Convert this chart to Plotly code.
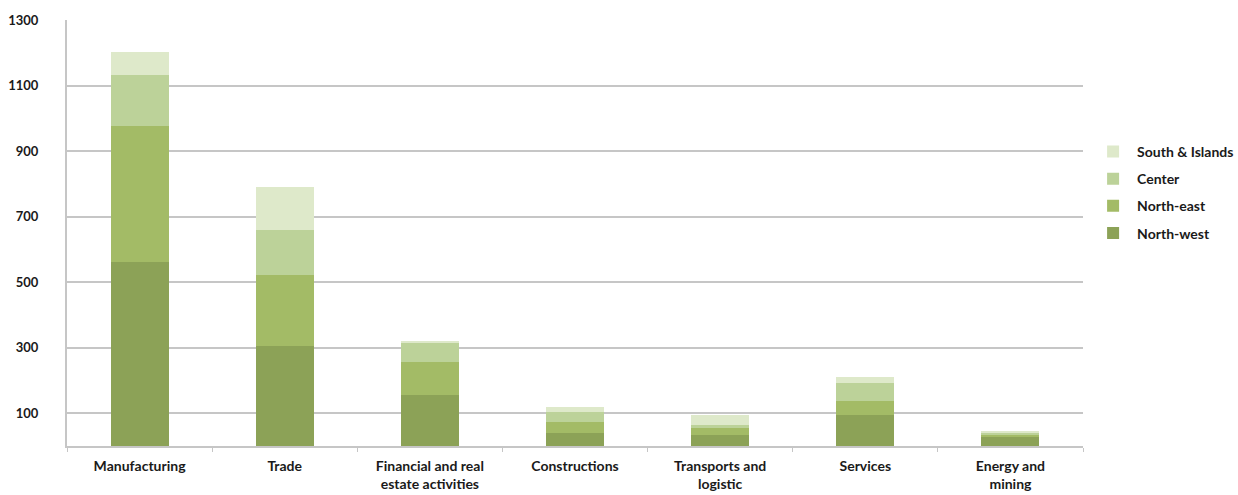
import plotly.graph_objects as go

# Categories (x axis) and regional values, stacked bottom to top
sectors = [
    "Manufacturing",
    "Trade",
    "Financial and real<br>estate activities",
    "Constructions",
    "Transports and<br>logistic",
    "Services",
    "Energy and<br>mining",
]
north_west = [563, 306, 157, 39, 34, 95, 30]
north_east = [414, 217, 100, 35, 20, 42, 6]
center = [154, 137, 60, 31, 10, 56, 4]
south_islands = [71, 130, 4, 15, 31, 18, 4]

y_ticks = [100, 300, 500, 700, 900, 1100, 1300]

# (name, values, colour, position in legend from the top)
series = [
    ("North-west", north_west, "#8CA257", 4),
    ("North-east", north_east, "#A3BB66", 3),
    ("Center", center, "#BCD299", 2),
    ("South & Islands", south_islands, "#DEE9CA", 1),
]

FONT = "Lato"
TXT = "#1a1a1a"
GRID = "#C6C6C6"

fig = go.Figure()
for name, vals, col, rank in series:
    fig.add_trace(go.Bar(
        x=sectors, y=vals, name=name, legendgroup=name, legendrank=rank,
        marker=dict(color=col, line=dict(width=0)),
    ))

fig.update_layout(
    barmode="stack",
    bargap=0.6,
    width=1238, height=495,
    margin=dict(l=67, r=155, t=20, b=49, autoexpand=False),
    plot_bgcolor="white",
    paper_bgcolor="white",
    font=dict(family=FONT, size=14, color=TXT, weight="bold"),
    legend=dict(
        x=1.006, y=0.728, xanchor="left", yanchor="top",
        traceorder="grouped", tracegroupgap=6,
        font=dict(family=FONT, size=14, color=TXT, weight="bold"),
        itemwidth=38,
    ),
    showlegend=True,
)

fig.update_xaxes(
    automargin=False,
    showline=True, linecolor=GRID, linewidth=2,
    ticks="outside", tickson="boundaries", ticklen=4, tickcolor=GRID, tickwidth=1,
    showgrid=False,
    tickfont=dict(family=FONT, size=14, color=TXT, weight="bold"),
    ticklabelstandoff=6,
)
fig.update_yaxes(
    automargin=False,
    range=[0, 1300],
    tickvals=y_ticks,
    showline=True, linecolor=GRID, linewidth=2,
    showgrid=True, gridcolor=GRID, gridwidth=2,
    zeroline=False,
    ticks="", ticklabelstandoff=24,
    tickfont=dict(family=FONT, size=13, color=TXT, weight="bold"),
)

fig.write_html("out.html")
